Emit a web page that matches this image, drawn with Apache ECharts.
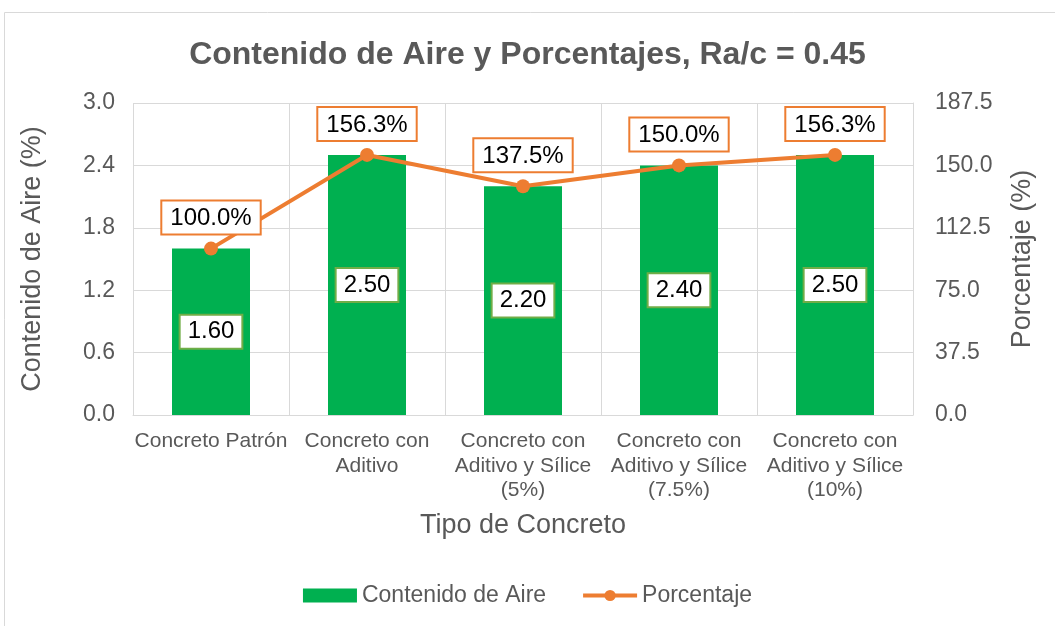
<!DOCTYPE html>
<html><head><meta charset="utf-8">
<script src="https://cdn.jsdelivr.net/npm/echarts@6/dist/echarts.min.js"></script>
<style>html,body{margin:0;padding:0;background:#fff}#c{width:1055px;height:626px}</style>
</head><body><div id="c"></div>
<script>
const categories = ['Concreto Patrón', 'Concreto con\nAditivo', 'Concreto con\nAditivo y Sílice\n(5%)', 'Concreto con\nAditivo y Sílice\n(7.5%)', 'Concreto con\nAditivo y Sílice\n(10%)'];
const airValues = [1.60, 2.50, 2.20, 2.40, 2.50];
const pctValues = [100.0, 156.3, 137.5, 150.0, 156.3];
const FONT = 'Liberation Sans, Arial, sans-serif';
const chart = echarts.init(document.getElementById('c'));
chart.setOption({
  animation: false,
  textStyle: {fontFamily: FONT},
  graphic: [{type:'rect', shape:{x:4.5, y:12.5, width:1060, height:640}, style:{fill:'none', stroke:'#d9d9d9', lineWidth:1}, silent:true}],
  title: {text: 'Contenido de Aire y Porcentajes, Ra/c = 0.45', left: 'center', top: 34,
    textStyle: {fontFamily: FONT, fontSize: 32, fontWeight: 'bold', color: '#595959'}},
  grid: {left: 133, right: 142, top: 103, bottom: 211},
  legend: {bottom: 14, left: 'center', itemGap: 35, itemWidth: 54, itemHeight: 14,
    textStyle: {fontFamily: FONT, fontSize: 23, color: '#595959'},
    lineStyle: {width: 4},
    data: [{name:'Contenido de Aire', icon:'rect', itemStyle: {}}, {name:'Porcentaje'}]},
  xAxis: {type: 'category', data: categories, name: 'Tipo de Concreto', nameLocation: 'middle', nameGap: 97,
    nameTextStyle: {fontSize: 27, color: '#595959'},
    axisLine: {lineStyle: {color: '#d9d9d9'}}, axisTick: {show: false},
    splitLine: {show: true, lineStyle: {color: '#d9d9d9'}},
    axisLabel: {fontSize: 21, color: '#595959', interval: 0, lineHeight: 24.5, margin: 14}},
  yAxis: [
    {type: 'value', min: 0, max: 3.0, interval: 0.6, name: 'Contenido de Aire (%)', nameLocation: 'middle', nameGap: 87,
     nameTextStyle: {fontSize: 27, color: '#595959'},
     axisLabel: {formatter: v => v.toFixed(1), fontSize: 23, color: '#595959', margin: 18},
     splitLine: {lineStyle: {color: '#d9d9d9'}}, axisLine: {show: false}},
    {type: 'value', min: 0, max: 187.5, interval: 37.5, name: 'Porcentaje (%)', nameLocation: 'middle', nameGap: 96, nameRotate: 90,
     nameTextStyle: {fontSize: 27, color: '#595959'},
     axisLabel: {formatter: v => v.toFixed(1), fontSize: 23, color: '#595959', margin: 22},
     splitLine: {show: false}, axisLine: {show: true, lineStyle: {color: '#d9d9d9'}}}
  ],
  series: [
    {name: 'Contenido de Aire', type: 'bar', data: airValues, barWidth: '50%', itemStyle: {color: '#00B050'},
     label: {show: true, position: 'inside', formatter: p => p.value.toFixed(2), fontSize: 24, color: '#000',
       backgroundColor: '#fff', borderColor: '#70AD47', borderWidth: 2, padding: [5, 7, 3, 7]}},
    {name: 'Porcentaje', type: 'line', yAxisIndex: 1, data: pctValues, symbol: 'circle', symbolSize: 14,
     lineStyle: {color: '#ED7D31', width: 4}, itemStyle: {color: '#ED7D31'},
     label: {show: true, position: 'top', distance: 8, formatter: p => p.value.toFixed(1) + '%', fontSize: 24, color: '#000',
       backgroundColor: '#fff', borderColor: '#ED7D31', borderWidth: 2, padding: [5, 8, 3, 8]}}
  ]
});
</script></body></html>
